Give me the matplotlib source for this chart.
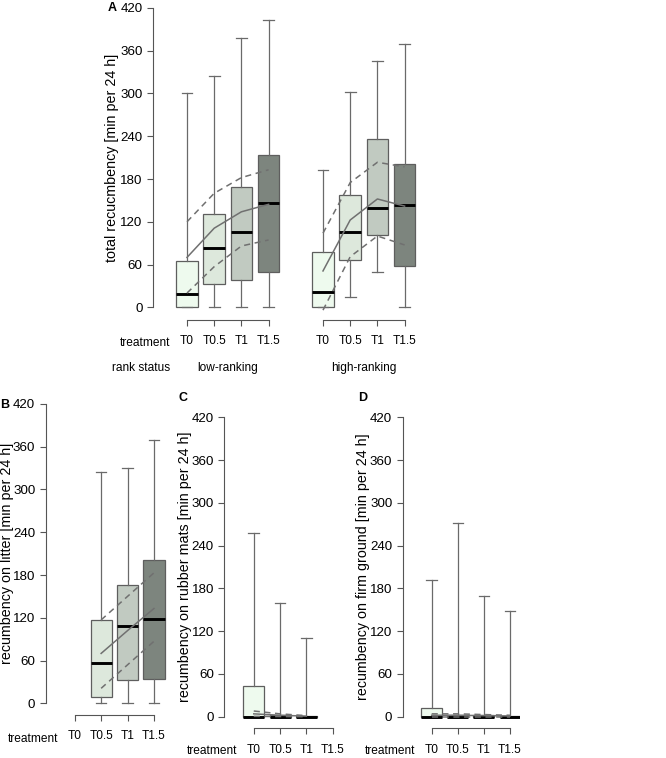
import matplotlib
matplotlib.use("Agg")
import matplotlib.pyplot as plt

plt.rcParams['font.family'] = ['Liberation Sans', 'DejaVu Sans']

W, H = 666, 758
K = 0.7127  # pixels per minute on the y axis

treatments = ["T0", "T0.5", "T1", "T1.5"]
box_colors = ["#eefaee", "#dde8dc", "#c1cac1", "#7d857e"]
yticks = [0, 60, 120, 180, 240, 300, 360, 420]

# box stats per treatment: (whislo, q1, median, q3, whishi)
a_low = [(0, 0, 18, 64.5, 300), (0, 32, 83, 130.5, 324),
         (0, 39, 105, 169, 378), (0, 49, 146, 214, 403)]
a_high = [(0, 0, 21, 77, 192), (14.5, 67, 105, 157, 302),
          (49, 102, 139, 236, 346), (0, 57.5, 144, 200.5, 370)]
b_stats = [None, (0, 8.4, 57, 116.6, 324), (0, 32, 108, 166, 330),
           (0, 34, 118, 201, 370)]
c_stats = [(0, 0, 0, 43.5, 258), (0, 0, 0, 2, 159), (0, 0, 0, 1, 111), None]
d_stats = [(0, 0, 0, 12.6, 192), (0, 0, 0, 3, 272), (0, 0, 0, 2, 169),
           (0, 0, 0, 1, 148)]

# model fit (solid) and confidence band (dashed)
a_low_fit = [70, 111, 134, 144.5]
a_low_upper = [120, 160, 182, 193]
a_low_lower = [20, 57, 86, 94.5]
a_high_fit = [51, 122.5, 152, 142]
a_high_upper = [104, 175, 203.5, 197]
a_high_lower = [-4, 71, 100, 87.5]
b_fit = [None, 70, 102, 133]
b_upper = [None, 117, 150, 183]
b_lower = [None, 21, 54, 87]
c_fit = [4, 2, 0.8, None]
c_upper = [8, 4, 1.5, None]
c_lower = [0.5, 0.2, 0, None]
d_fit = [2, 2, 1.5, 1]
d_upper = [4, 4, 3, 2]
d_lower = [0, 0, 0, 0]

XFS = 8.6   # x axis texts
YFS = 9.6   # y tick labels
LFS = 10.3  # y axis titles

fig = plt.figure(figsize=(W / 100, H / 100), dpi=100)


def fig_text(x, y, s, **kw):
    fig.text(x / W, 1 - y / H, s, **kw)


def make_axes(left_px, x0, x1, unit_px, zero_px, bracket_px, yaxis=True):
    y0, y1 = -8, 425
    bottom_px = zero_px - y0 * K
    top_px = zero_px - y1 * K
    ax = fig.add_axes([left_px / W, 1 - bottom_px / H,
                       (x1 - x0) * unit_px / W, (bottom_px - top_px) / H])
    ax.patch.set_alpha(0)
    for s in ["top", "right"]:
        ax.spines[s].set_visible(False)
    ax.spines["bottom"].set_bounds(1, 4)
    ax.spines["bottom"].set_position(("outward", (bracket_px - bottom_px) * 0.72))
    if yaxis:
        ax.spines["left"].set_bounds(0, 420)
    else:
        ax.spines["left"].set_visible(False)
    for s in ["left", "bottom"]:
        ax.spines[s].set_color("#555555")
        ax.spines[s].set_linewidth(0.8)
    return ax, (x0, x1, y0, y1, yaxis)


def finish(ax, lims):
    x0, x1, y0, y1, yaxis = lims
    ax.set_xlim(x0, x1)
    ax.set_ylim(y0, y1)
    ax.set_xticks([1, 2, 3, 4], treatments)
    ax.tick_params(axis="x", direction="out", length=4.5, width=0.8,
                   color="#555555", pad=6.5, labelsize=XFS)
    if yaxis:
        ax.set_yticks(yticks)
        ax.tick_params(axis="y", direction="out", length=4, width=0.8,
                       color="#555555", pad=3.5, labelsize=YFS)
    else:
        ax.set_yticks([])


def draw(ax, lims, stats, fit, upper, lower):
    pos = [i + 1 for i, s in enumerate(stats) if s is not None]
    cols = [box_colors[i] for i, s in enumerate(stats) if s is not None]
    bx = [dict(whislo=s[0], q1=s[1], med=s[2], q3=s[3], whishi=s[4])
          for s in stats if s is not None]
    res = ax.bxp(bx, positions=pos, widths=0.8, capwidths=0.4,
                 patch_artist=True, showfliers=False, manage_ticks=False,
                 boxprops=dict(edgecolor="#5e5e5e", linewidth=0.9),
                 whiskerprops=dict(color="#6a6a6a", linewidth=0.9, linestyle="-"),
                 capprops=dict(color="#6a6a6a", linewidth=0.9),
                 medianprops=dict(color="black", linewidth=2.1))
    for patch, c in zip(res["boxes"], cols):
        patch.set_facecolor(c)
    xs = [i + 1 for i, v in enumerate(fit) if v is not None]
    for vals, ls in [(fit, "-"), (upper, (0, (4, 3))), (lower, (0, (4, 3)))]:
        ax.plot(xs, [v for v in vals if v is not None], color="#707070",
                lw=1.1, ls=ls, zorder=5)
    finish(ax, lims)


# panel A
u = 27.2
axA1, lA1 = make_axes(153, -0.25, 4.6, u, 307.3, 320)
axA2, lA2 = make_axes(323 - 0.6 * u, 0.4, 4.6, u, 307.3, 320, yaxis=False)
draw(axA1, lA1, a_low, a_low_fit, a_low_upper, a_low_lower)
draw(axA2, lA2, a_high, a_high_fit, a_high_upper, a_high_lower)
fig_text(112, 158, "total recucmbency [min per 24 h]", rotation=90,
         ha="center", va="center", fontsize=LFS)
fig_text(112, 8, "A", ha="center", va="center", fontsize=9, fontweight="bold")
fig_text(170, 343, "treatment", ha="right", va="center", fontsize=XFS)
fig_text(170, 368, "rank status", ha="right", va="center", fontsize=XFS)
fig_text(228, 368, "low-ranking", ha="center", va="center", fontsize=XFS)
fig_text(364, 368, "high-ranking", ha="center", va="center", fontsize=XFS)

# panel B
axB, lB = make_axes(45.7, -0.1, 4.6, 26.4, 703.3, 715)
draw(axB, lB, b_stats, b_fit, b_upper, b_lower)
fig_text(7, 553, "recumbency on litter [min per 24 h]", rotation=90,
         ha="center", va="center", fontsize=LFS)
fig_text(5, 405, "B", ha="center", va="center", fontsize=9, fontweight="bold")
fig_text(58, 739, "treatment", ha="right", va="center", fontsize=XFS)

# panel C
axC, lC = make_axes(224.3, -0.12, 4.6, 26.3, 716.7, 728.3)
draw(axC, lC, c_stats, c_fit, c_upper, c_lower)
fig_text(185, 567, "recumbency on rubber mats [min per 24 h]", rotation=90,
         ha="center", va="center", fontsize=LFS)
fig_text(183, 398, "C", ha="center", va="center", fontsize=9, fontweight="bold")
fig_text(237, 751, "treatment", ha="right", va="center", fontsize=XFS)

# panel D
axD, lD = make_axes(402.7, -0.11, 4.4, 26.1, 716.7, 728.3)
draw(axD, lD, d_stats, d_fit, d_upper, d_lower)
fig_text(363, 567, "recumbency on firm ground [min per 24 h]", rotation=90,
         ha="center", va="center", fontsize=LFS)
fig_text(363, 398, "D", ha="center", va="center", fontsize=9, fontweight="bold")
fig_text(415, 751, "treatment", ha="right", va="center", fontsize=XFS)

fig.savefig("out.png", dpi=100)
